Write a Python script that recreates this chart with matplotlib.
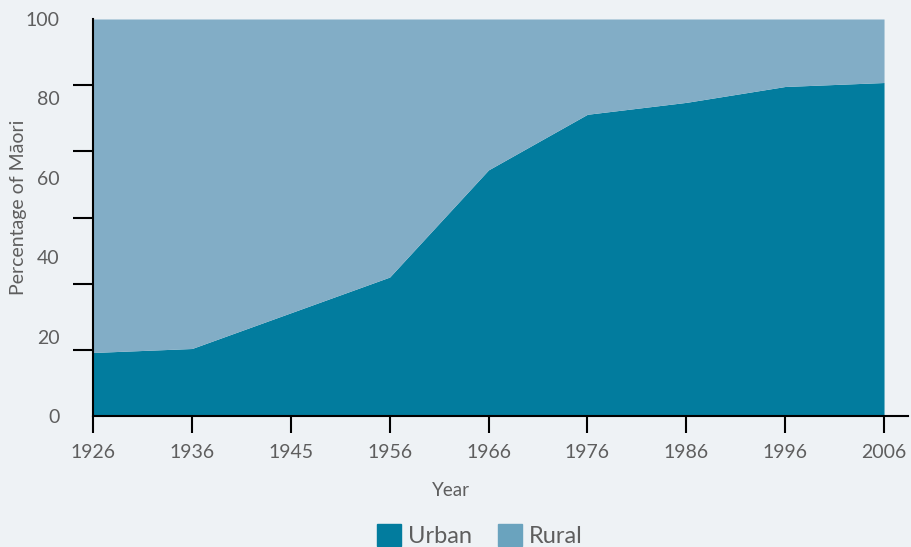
import numpy as np
import matplotlib.pyplot as plt
from matplotlib.patches import Patch

years = ["1926", "1936", "1945", "1956", "1966", "1976", "1986", "1996", "2006"]
urban = [16, 17, 26, 35, 62, 76, 79, 83, 84]
rural = [100 - u for u in urban]

bg = "#eef2f5"
urban_col = "#027c9e"
rural_col = "#82adc6"
rural_legend = "#6aa3be"
text_col = "#5e5e5e"

plt.rcParams["font.family"] = ["Lato", "DejaVu Sans"]

fig = plt.figure(figsize=(9.12, 5.47), dpi=100, facecolor=bg)
ax = fig.add_axes([93 / 912, 1 - 416 / 547, (908 - 93) / 912, (416 - 19) / 547])
ax.set_facecolor(bg)

x = np.arange(len(years))
u = np.array(urban)
r = np.array(rural)
ax.fill_between(x, 0, u, color=urban_col, lw=0)
ax.fill_between(x, u, u + r, color=rural_col, lw=0)

ax.set_xlim(0, 8 + 24 / 99)
ax.set_ylim(0, 100)

for s in ["top", "right"]:
    ax.spines[s].set_visible(False)
for s in ["left", "bottom"]:
    ax.spines[s].set_linewidth(1.5)
    ax.spines[s].set_color("black")

ax.set_xticks(x)
ax.set_xticklabels(years)
ax.tick_params(axis="x", length=12, width=1.5, color="black", pad=8,
               labelsize=14, labelcolor=text_col)

ax.set_yticks(np.arange(0, 101, 20))
ax.tick_params(axis="y", which="major", length=0, pad=24,
               labelsize=14, labelcolor=text_col)
ax.set_yticks(np.linspace(0, 100, 7), minor=True)
ax.tick_params(axis="y", which="minor", length=14.5, width=1.5, color="black")

fig.text(451 / 912, 1 - 490 / 547, "Year", ha="center", va="center",
         fontsize=13.5, color=text_col)
fig.text(19 / 912, 1 - 207 / 547, "Percentage of Māori", rotation=90,
         ha="center", va="center", fontsize=14, color=text_col)

handles = [Patch(color=urban_col, label="Urban"),
           Patch(color=rural_legend, label="Rural")]
fig.legend(handles=handles, loc="upper left",
           bbox_to_anchor=(368 / 912, 1 - 515 / 547), ncol=2, frameon=False,
           fontsize=17, handlelength=1.0, handleheight=1.0, handletextpad=0.3,
           columnspacing=1.1, labelcolor=text_col, borderaxespad=0)

fig.savefig("out.png", dpi=100, facecolor=bg)
